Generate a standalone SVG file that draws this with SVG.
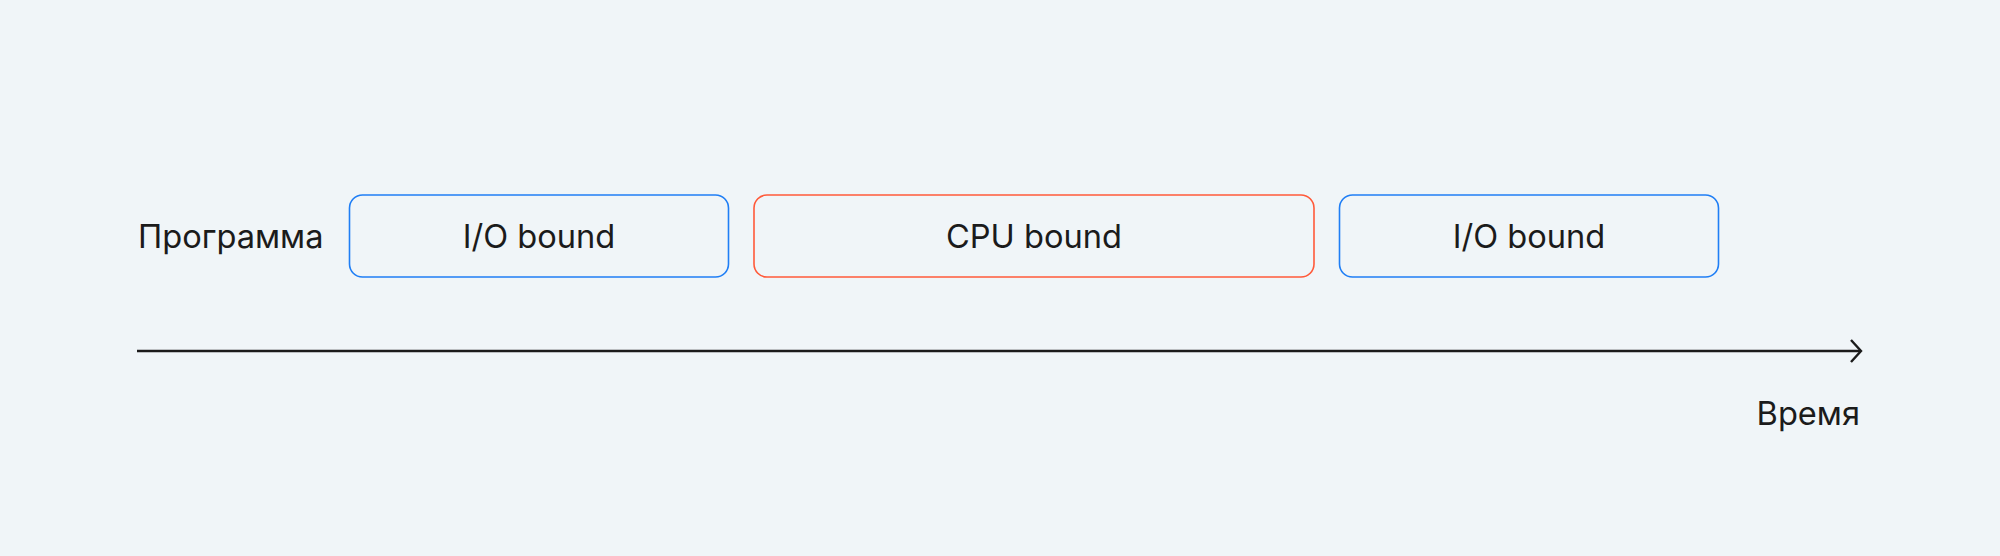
<svg xmlns="http://www.w3.org/2000/svg" width="2000" height="556" viewBox="0 0 2000 556">
<style>
.t{font-family:Inter,"Liberation Sans",sans-serif;font-size:32.6px;fill:#1b1b1b}
.box{fill:none;stroke-width:1.6}
.io{stroke:#1f7ef5}
.cpu{stroke:#ff5a3a}
</style>
<defs>
<marker id="arr" markerUnits="userSpaceOnUse" markerWidth="20" markerHeight="30" refX="11" refY="12" orient="auto" viewBox="0 0 20 24">
<path d="M1 1 L11 12 L1 23" fill="none" stroke="#1b1b1b" stroke-width="2.4" stroke-linejoin="miter"/>
</marker>
</defs>
<rect width="2000" height="556" fill="#f0f5f8"/>
<g id="label-program"><text class="t" x="138" y="248">Программа</text></g>
<g id="node-io1"><rect class="box io" x="349.5" y="195" width="379" height="82" rx="13"/><text class="t" x="539" y="248" text-anchor="middle">I/O bound</text></g>
<g id="node-cpu"><rect class="box cpu" x="754" y="195" width="560" height="82" rx="13"/><text class="t" x="1034" y="248" text-anchor="middle">CPU bound</text></g>
<g id="node-io2"><rect class="box io" x="1339.5" y="195" width="379" height="82" rx="13"/><text class="t" x="1529" y="248" text-anchor="middle">I/O bound</text></g>
<g id="connectors"><line x1="137" y1="351" x2="1861" y2="351" stroke="#1b1b1b" stroke-width="2.4" marker-end="url(#arr)"/></g>
<g id="label-time"><text class="t" x="1860" y="425" text-anchor="end">Время</text></g>
</svg>
